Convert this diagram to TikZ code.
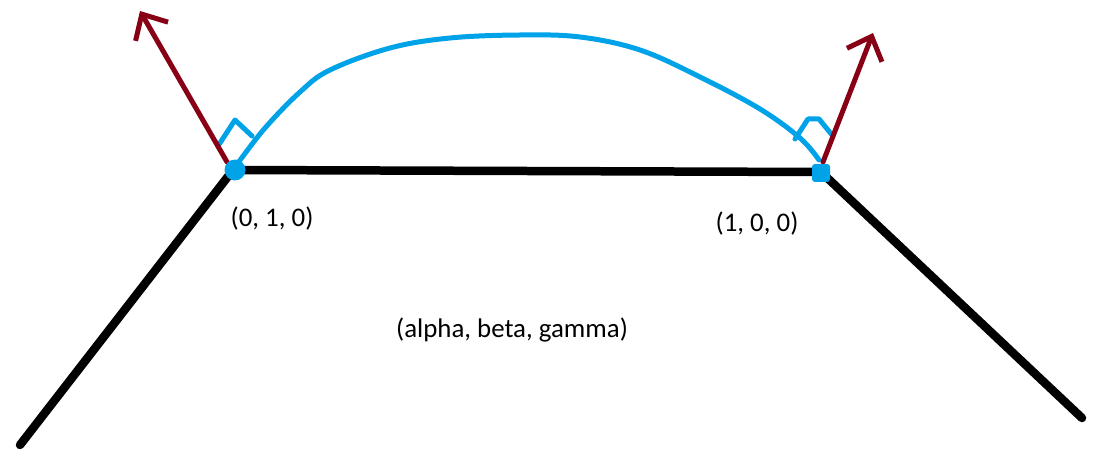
\documentclass[tikz,border=0pt]{standalone}
\usepackage{fontspec}
\setmainfont{Carlito}
\usetikzlibrary{arrows.meta}
\definecolor{pblue}{RGB}{0,162,232}
\definecolor{pred}{RGB}{136,0,21}
\begin{document}
\begin{tikzpicture}[x=0.02cm,y=-0.02cm,
  blackline/.style={line width=0.17cm,black,line cap=round,line join=round},
  redarrow/.style={line width=0.1cm,pred,line cap=round,-{Straight Barb[length=0.4cm,width=0.75cm,line width=0.1cm]}},
  bluecurve/.style={line width=0.1cm,pblue,line cap=round,line join=round},
  dot/.style={circle,fill=pblue,inner sep=0pt,minimum size=0.42cm},
  sqdot/.style={rectangle,rounded corners=0.06cm,fill=pblue,inner sep=0pt,minimum size=0.36cm},
  lbl/.style={font=\fontsize{15.3}{18}\selectfont,text=black,inner sep=0pt}]
\useasboundingbox (0,0) rectangle (1104,449);
\fill[white] (0,0) rectangle (1104,449);
\coordinate (L0) at (20,445);
\coordinate (A) at (233,170);
\coordinate (B) at (821,172);
\coordinate (R0) at (1082,418);
\draw[blackline] (L0) -- (A) -- (B) -- (R0);
% blue curve
\draw[bluecurve] plot[smooth,tension=0.6] coordinates {(238,163) (265,128) (300,92) (330,70) (390,48) (450,38) (520,35) (580,37) (640,50) (700,77) (760,109) (800,138) (819,160)};
% right-angle marks
\draw[bluecurve] (218,146) -- (235,120) -- (252,136);
\draw[bluecurve] (795,139) -- (808,119) -- (819,119) -- (832,135);
% red arrows
\coordinate (Lt) at (140,11);
\coordinate (Rt) at (873,33);
\draw[redarrow] (227,162) -- (Lt);
\draw[redarrow] (823,162) -- (Rt);
% dots
\node[dot] (Ad) at (235,170) {};
\node[sqdot] (Bd) at (821,173) {};
% labels
\node[lbl] (la) at (272,219) {(0, 1, 0)};
\node[lbl] (lb) at (757,224) {(1, 0, 0)};
\node[lbl] (lc) at (512,330) {(alpha, beta, gamma)};
\end{tikzpicture}
\end{document}
